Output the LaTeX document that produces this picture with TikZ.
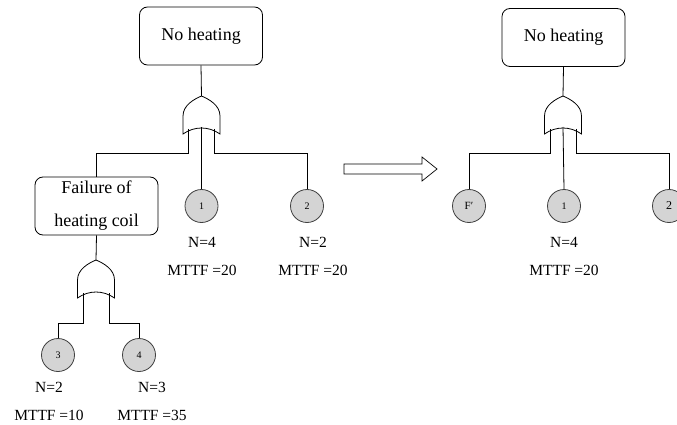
\documentclass[tikz,border=0pt]{standalone}
\usepackage{fontspec}
\setmainfont{Liberation Serif}
\begin{document}
\begin{tikzpicture}[x=1pt,y=-1pt,line width=0.8pt,
  box/.style={draw,rounded corners=8pt,minimum width=123pt,minimum height=58pt,inner sep=0pt,align=center,font=\fontsize{18}{20}\selectfont},
  basic/.style={draw=black!75,fill=black!17,circle,minimum size=33pt,inner sep=0pt,font=\fontsize{10}{12}\selectfont},
  lbl/.style={inner sep=0pt,font=\fontsize{15.5}{18}\selectfont},
  orgate/.pic={
    \draw (-18.5,38) -- (-18.5,20) .. controls (-18.5,9) and (-7,3) .. (0,0)
      .. controls (7,3) and (18.5,9) .. (18.5,20) -- (18.5,38)
      .. controls (7,30) and (-7,30) .. cycle;
    \coordinate (-top) at (0,0);
    \coordinate (-a) at (-13,33);
    \coordinate (-b) at (0,31);
    \coordinate (-c) at (13,33);
  }]
\useasboundingbox (0,0) rectangle (677,425);
\clip (0,0) rectangle (677,425);
% ---------- left tree ----------
\node[box] (top1) at (201,36) {No heating};
\pic (g1) at (201.5,96) {orgate};
\node[box] (fail) at (96.5,206) {Failure of\\[13pt]heating coil};
\node[basic] (c1) at (201.5,206) {1};
\node[basic] (c2) at (307,206) {2};
\pic (g2) at (96,260) {orgate};
\node[basic] (c3) at (58,355) {3};
\node[basic] (c4) at (139,355) {4};
\coordinate (bus1) at (0,153);
\coordinate (bus2) at (0,323);
\draw (top1.south) -- (g1-top);
\draw (g1-a) -- (g1-a |- bus1) -| (fail.north);
\draw (g1-b) -- (c1.north);
\draw (g1-c) -- (g1-c |- bus1) -| (c2.north);
\draw (fail.south) -- (g2-top);
\draw (g2-a) -- (g2-a |- bus2) -| (c3.north);
\draw (g2-c) -- (g2-c |- bus2) -| (c4.north);
\node[lbl] (n1) at (202,242) {N=4};
\node[lbl] (m1) at (202,270) {MTTF =20};
\node[lbl] (n2) at (313,242) {N=2};
\node[lbl] (m2) at (313,270) {MTTF =20};
\node[lbl] (n3) at (49,387) {N=2};
\node[lbl] (m3) at (49,415) {MTTF =10};
\node[lbl] (n4) at (152,387) {N=3};
\node[lbl] (m4) at (152,415) {MTTF =35};
% ---------- transformation arrow ----------
\draw[line width=0.7pt] (344,164) -- (422,164) -- (422,157) -- (437,169) -- (422,181) -- (422,174) -- (344,174) -- cycle;
% ---------- right tree ----------
\node[box] (top2) at (563.5,37.5) {No heating};
\pic (g3) at (563,96) {orgate};
\node[basic,font=\fontsize{11}{12}\selectfont] (cf) at (469,206) {F′};
\node[basic] (c5) at (564,206) {1};
\node[basic,font=\fontsize{12}{13}\selectfont] (c6) at (669,206) {2};
\draw (top2.south) -- (g3-top);
\draw (g3-a) -- (g3-a |- bus1) -| (cf.north);
\draw (g3-b) -- (c5.north);
\draw (g3-c) -- (g3-c |- bus1) -| (c6.north);
\node[lbl] (n5) at (564,242) {N=4};
\node[lbl] (m5) at (564,270) {MTTF =20};
\end{tikzpicture}
\end{document}
